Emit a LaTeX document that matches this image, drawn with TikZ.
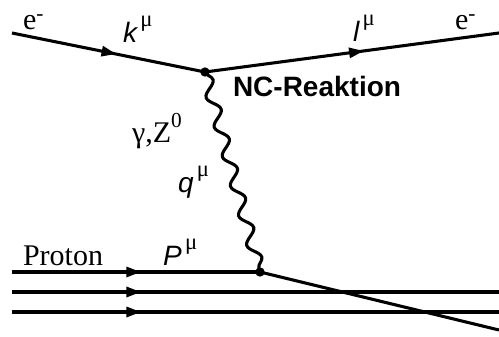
\documentclass[tikz,border=0pt]{standalone}
\usepackage{fontspec}
\setmainfont{Liberation Serif}
\setsansfont{Liberation Sans}
\usetikzlibrary{decorations.pathmorphing,decorations.markings,arrows.meta}
\newcommand\supr[1]{\raisebox{0.5em}{\fontsize{16}{16}\selectfont\rmfamily #1}}
\newcommand\supminus{\raisebox{0.3em}{\fontsize{16}{16}\selectfont\rmfamily -}}
\newcommand\supm[1]{\hspace{2.5pt}\raisebox{0.55em}{\fontsize{17}{17}\selectfont\rmfamily\upshape #1}}
\begin{document}
\begin{tikzpicture}[x=0.75pt,y=-0.75pt,
  fermion/.style={line width=2.3pt,postaction={decorate},decoration={markings,
    mark=at position #1 with {\arrow{Triangle[length=11pt,width=7.5pt]}}}},
  plain/.style={line width=2.3pt},
  boson/.style={line width=2.3pt,decorate,decoration={snake,segment length=23pt,amplitude=4.3pt}},
  vtx/.style={circle,fill=black,inner sep=0pt,minimum size=7pt},
  lbl/.style={anchor=base west,inner sep=0pt,outer sep=0pt,font=\fontsize{22.5}{27}\selectfont},
  slbl/.style={anchor=base west,inner sep=0pt,outer sep=0pt,font=\fontsize{21}{25}\selectfont\sffamily\itshape},
  blbl/.style={anchor=base west,inner sep=0pt,outer sep=0pt,font=\fontsize{21}{25}\selectfont\sffamily\bfseries}]
\useasboundingbox (0,0) rectangle (499,336);
% coordinates
\coordinate (ein) at (12,33);
\coordinate (eout) at (499,33);
\node[vtx] (v1) at (205,72) {};
\node[vtx] (v2) at (260,272) {};
\coordinate (p1s) at (12,272);
\coordinate (p2s) at (12,292);
\coordinate (p2e) at (499,292);
\coordinate (p3s) at (12,312);
\coordinate (p3e) at (499,312);
\coordinate (qout) at (499,330);
% lines
\draw[fermion=0.54] (ein) -- (v1.center);
\draw[fermion=0.54] (v1.center) -- (eout);
\draw[boson] (v1.center) -- (v2.center);
\draw[fermion=0.52] (p1s) -- (v2.center);
\draw[fermion=0.265] (p2s) -- (p2e);
\draw[fermion=0.265] (p3s) -- (p3e);
\draw[plain] (v2.center) -- (qout);
% labels
\node[lbl] (le1) at (23,29) {e\supminus};
\node[slbl] (lk) at (123,42) {k\supm{μ}};
\node[slbl] (ll) at (353,41) {l\supm{μ}};
\node[lbl] (le2) at (455,29) {e\supminus};
\node[blbl] (lnc) at (233,96) {NC-Reaktion};
\node[lbl] (lg) at (132,142) {γ,Z\supr{0}};
\node[slbl] (lq) at (178,192) {q\supm{μ}};
\node[lbl] (lp) at (23,265) {Proton};
\node[slbl] (lP) at (163,265) {P\supm{μ}};
\end{tikzpicture}
\end{document}
